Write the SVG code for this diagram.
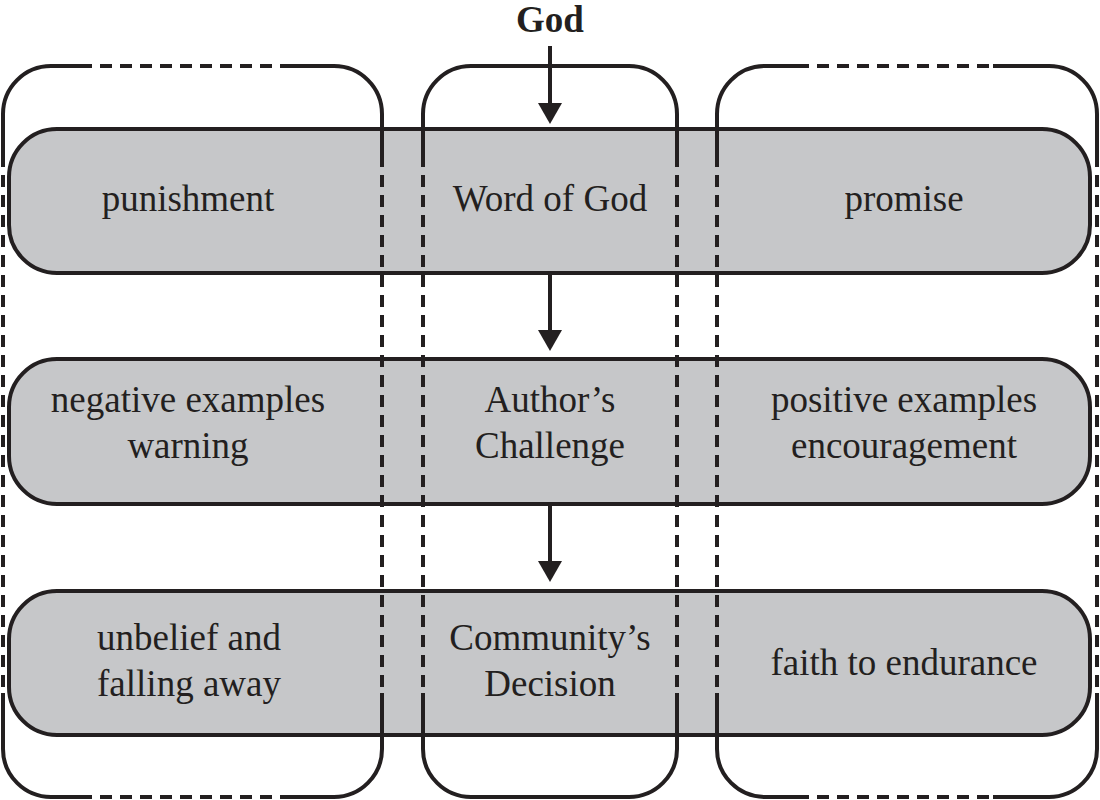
<svg xmlns="http://www.w3.org/2000/svg" width="1100" height="800" viewBox="0 0 1100 800">
<style>
.bar{fill:#c6c7c9;stroke:#231f20;stroke-width:4}
.solid{fill:none;stroke:#231f20;stroke-width:4}
.dash{fill:none;stroke:#231f20;stroke-width:4;stroke-dasharray:12 8}
.t{font-family:"Liberation Serif","Times New Roman",serif;font-size:37px;fill:#231f20;text-anchor:middle}
.b{font-weight:bold}
.conn{stroke:#231f20;stroke-width:4;fill:none}
</style>
<defs>
<marker id="ah" markerUnits="userSpaceOnUse" markerWidth="26" markerHeight="26" refX="0" refY="12" orient="auto">
<path d="M0,0 L21,12 L0,24 Z" fill="#231f20"/>
</marker>
</defs>
<rect width="1100" height="800" fill="#fff"/>
<g id="bar1"><rect class="bar" x="9" y="129" width="1081" height="144" rx="48"/></g>
<g id="bar2"><rect class="bar" x="9" y="359" width="1081" height="145" rx="48"/></g>
<g id="bar3"><rect class="bar" x="9" y="591" width="1081" height="144" rx="48"/></g>
<g id="col-left">
<path class="solid" d="M3,167 V114 A48,48 0 0 1 51,66 H92 M284,66 H334 A48,48 0 0 1 382,114 V167"/>
<path class="solid" d="M3,693 V749 A48,48 0 0 0 51,797 H92 M284,797 H334 A48,48 0 0 0 382,749 V693"/>
<path class="dash" d="M100,66 H284 M100,797 H284 M3,175 V693 M382,175 V693"/>
</g>
<g id="col-mid">
<path class="solid" d="M423,167 V114 A48,48 0 0 1 471,66 H629 A48,48 0 0 1 677,114 V167"/>
<path class="solid" d="M423,693 V749 A48,48 0 0 0 471,797 H629 A48,48 0 0 0 677,749 V693"/>
<path class="dash" d="M423,175 V693 M677,175 V693"/>
</g>
<g id="col-right">
<path class="solid" d="M717,167 V114 A48,48 0 0 1 765,66 H809 M993,66 H1049 A48,48 0 0 1 1097,114 V167"/>
<path class="solid" d="M717,693 V749 A48,48 0 0 0 765,797 H809 M993,797 H1049 A48,48 0 0 0 1097,749 V693"/>
<path class="dash" d="M817,66 H993 M817,797 H993 M717,175 V693 M1097,175 V693"/>
</g>
<g id="connectors">
<line class="conn" x1="550" y1="46" x2="550" y2="103" marker-end="url(#ah)"/>
<line class="conn" x1="550" y1="273" x2="550" y2="330" marker-end="url(#ah)"/>
<line class="conn" x1="550" y1="504" x2="550" y2="561" marker-end="url(#ah)"/>
</g>
<g id="god"><text class="t b" x="550" y="32">God</text></g>
<g id="punishment"><text class="t" x="188" y="211">punishment</text></g>
<g id="word"><text class="t" x="550" y="211">Word of God</text></g>
<g id="promise"><text class="t" x="904" y="211">promise</text></g>
<g id="negative"><text class="t" x="188" y="412">negative examples</text><text class="t" x="188" y="458">warning</text></g>
<g id="author"><text class="t" x="550" y="412">Author’s</text><text class="t" x="550" y="458">Challenge</text></g>
<g id="positive"><text class="t" x="904" y="412">positive examples</text><text class="t" x="904" y="458">encouragement</text></g>
<g id="unbelief"><text class="t" x="189" y="650">unbelief and</text><text class="t" x="189" y="696">falling away</text></g>
<g id="community"><text class="t" x="550" y="650">Community’s</text><text class="t" x="550" y="696">Decision</text></g>
<g id="faith"><text class="t" x="904" y="675">faith to endurance</text></g>
</svg>
